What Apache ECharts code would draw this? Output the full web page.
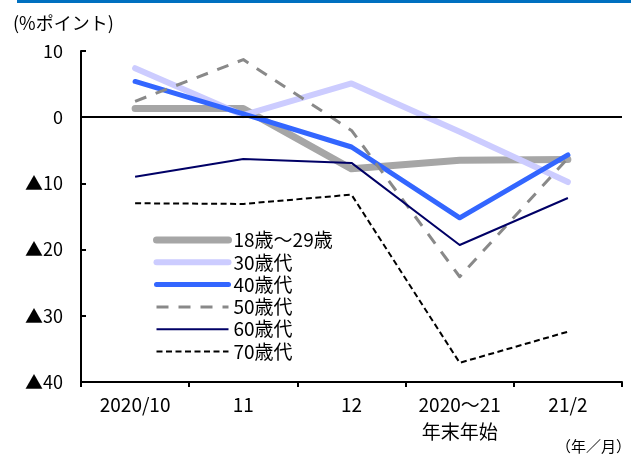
<!DOCTYPE html>
<html><head><meta charset="utf-8">
<script src="https://cdn.jsdelivr.net/npm/echarts@6/dist/echarts.min.js"></script>
<style>html,body{margin:0;padding:0;background:#fff}#c{width:631px;height:456px}</style>
</head><body><div id="c"></div>
<script>
const categories = ['2020/10', '11', '12', '2020～21\n年末年始', '21/2'];
const age18to29 = [1.3, 1.3, -7.8, -6.5, -6.4];
const age30s = [7.4, 0.3, 5.1, -2.2, -9.8];
const age40s = [5.4, 0.5, -4.5, -15.2, -5.7];
const age50s = [2.4, 8.7, -2.0, -24.1, -6.2];
const age60s = [-9.0, -6.3, -6.9, -19.3, -12.2];
const age70s = [-13.0, -13.1, -11.7, -37.1, -32.4];
const seriesNames = ['18歳～29歳', '30歳代', '40歳代', '50歳代', '60歳代', '70歳代'];
const yTicks = [10, 0, -10, -20, -30, -40];

const FONT = '"Noto Sans CJK JP", sans-serif';
const chart = echarts.init(document.getElementById('c'), null, {renderer: 'canvas'});
function mk(name, data, color, width, type, cap) {
  return {
    name, type: 'line', data, symbol: 'none', smooth: false,
    lineStyle: {color, width, type, cap: cap || 'butt', join: 'round'}, itemStyle: {color},
    emphasis: {disabled: true}, animation: false
  };
}
const s0 = mk(seriesNames[0], age18to29, '#a6a6a6', 7, 'solid', 'round');
s0.markLine = {silent: true, symbol: 'none', label: {show: false},
  lineStyle: {color: '#000', width: 2, type: 'solid'}, data: [{yAxis: 0}], animation: false};
chart.setOption({
  animation: false,
  textStyle: {fontFamily: FONT},
  grid: {left: 81, right: 9, top: 51, bottom: 74},
  graphic: [
    {type: 'rect', shape: {x: 17, y: 0, width: 614, height: 3}, style: {fill: '#0070c0'}},
    {type: 'text', left: 13, top: 14, style: {text: '(%ポイント)', font: '18px ' + FONT, fill: '#000'}},
    {type: 'text', right: 0, top: 439, style: {text: '（年／月）', font: '15px ' + FONT, fill: '#000'}}
  ],
  legend: {
    orient: 'vertical', left: 153, top: 230.5, padding: 0,
    itemWidth: 72, itemHeight: 19, itemGap: 3.3,
    data: seriesNames,
    itemStyle: {opacity: 0},
    lineStyle: {width: 'inherit'},
    textStyle: {fontSize: 19, color: '#000', fontFamily: FONT}
  },
  xAxis: {
    type: 'category', data: categories, boundaryGap: true,
    axisLine: {onZero: false, lineStyle: {color: '#000', width: 2}},
    axisTick: {show: true, inside: false, length: 5, lineStyle: {color: '#000', width: 2}},
    axisLabel: {color: '#000', fontSize: 19, margin: 10, lineHeight: 26.5, fontFamily: FONT},
    splitLine: {show: false}
  },
  yAxis: {
    type: 'value', min: -40, max: 10, interval: 10,
    axisLine: {show: true, lineStyle: {color: '#000', width: 2}},
    axisTick: {show: true, inside: true, length: 5, lineStyle: {color: '#000', width: 2}},
    axisLabel: {color: '#000', fontSize: 18, margin: 18, fontFamily: FONT,
      formatter: v => yTicks.includes(v) ? (v < 0 ? '▲' + Math.abs(v) : String(v)) : ''},
    splitLine: {show: false}
  },
  series: [
    s0,
    mk(seriesNames[1], age30s, '#ccccff', 6, 'solid', 'round'),
    mk(seriesNames[2], age40s, '#3366ff', 5, 'solid', 'round'),
    mk(seriesNames[3], age50s, '#898989', 3, [12, 10]),
    mk(seriesNames[4], age60s, '#000066', 2, 'solid'),
    mk(seriesNames[5], age70s, '#000000', 2, [6, 3.5])
  ]
});
</script></body></html>
